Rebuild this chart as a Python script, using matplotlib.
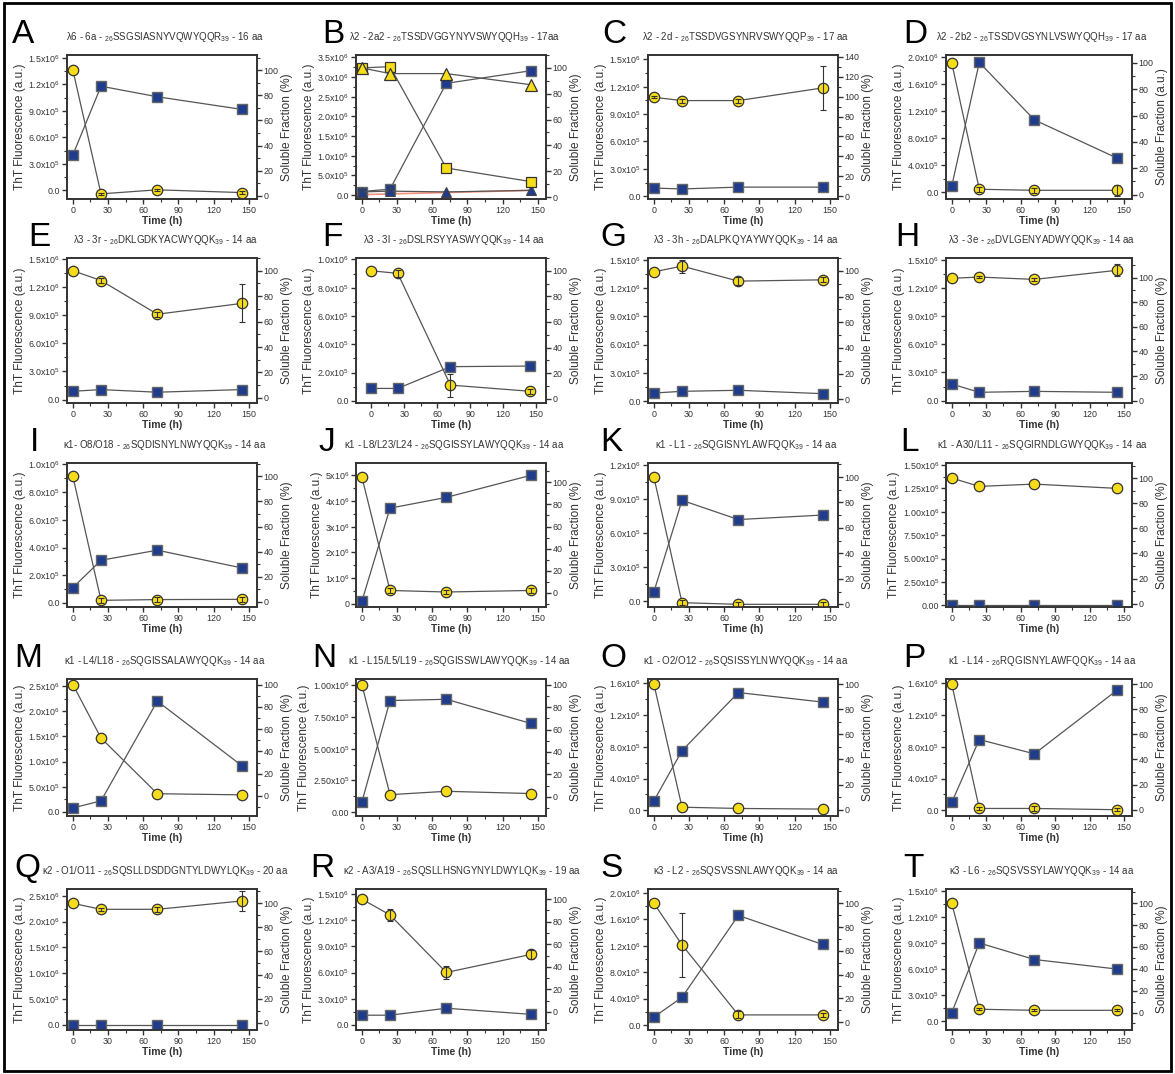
import numpy as np
import matplotlib
matplotlib.use("Agg")
import matplotlib.pyplot as plt
from matplotlib.ticker import AutoMinorLocator
from matplotlib.patches import Rectangle

plt.rcParams['font.family'] = ['Liberation Sans', 'DejaVu Sans']
plt.rcParams['mathtext.fontset'] = 'custom'
plt.rcParams['mathtext.rm'] = 'Liberation Sans'
plt.rcParams['mathtext.it'] = 'Liberation Sans'
plt.rcParams['mathtext.bf'] = 'Liberation Sans:bold'

hours = [0, 24, 72, 144]
letters = list("ABCDEFGHIJKLMNOPQRST")
titles = [
    "\u03bb6 - 6a - $_{26}$SSGSIASNYVQWYQQR$_{39}$ - 16 aa",
    "\u03bb2 - 2a2 - $_{26}$TSSDVGGYNYVSWYQQH$_{39}$ - 17aa",
    "\u03bb2 - 2d - $_{26}$TSSDVGSYNRVSWYQQP$_{39}$ - 17 aa",
    "\u03bb2 - 2b2 - $_{26}$TSSDVGSYNLVSWYQQH$_{39}$ - 17 aa",
    "\u03bb3 - 3r - $_{26}$DKLGDKYACWYQQK$_{39}$ - 14 aa",
    "\u03bb3 - 3l - $_{26}$DSLRSYYASWYQQK$_{39}$ - 14 aa",
    "\u03bb3 - 3h - $_{26}$DALPKQYAYWYQQK$_{39}$ - 14 aa",
    "\u03bb3 - 3e - $_{26}$DVLGENYADWYQQK$_{39}$ - 14 aa",
    "\u03ba1- O8/O18 - $_{26}$SQDISNYLNWYQQK$_{39}$ - 14 aa",
    "\u03ba1 - L8/L23/L24 - $_{26}$SQGISSYLAWYQQK$_{39}$ - 14 aa",
    "\u03ba1 - L1 - $_{26}$SQGISNYLAWFQQK$_{39}$ - 14 aa",
    "\u03ba1 - A30/L11 - $_{26}$SQGIRNDLGWYQQK$_{39}$ - 14 aa",
    "\u03ba1 - L4/L18 - $_{26}$SQGISSALAWYQQK$_{39}$ - 14 aa",
    "\u03ba1 - L15/L5/L19 - $_{26}$SQGISSWLAWYQQK$_{39}$ - 14 aa",
    "\u03ba1 - O2/O12 - $_{26}$SQSISSYLNWYQQK$_{39}$ - 14 aa",
    "\u03ba1 - L14 - $_{26}$RQGISNYLAWFQQK$_{39}$ - 14 aa",
    "\u03ba2 - O1/O11 - $_{26}$SQSLLDSDDGNTYLDWYLQK$_{39}$ - 20 aa",
    "\u03ba2 - A3/A19 - $_{26}$SQSLLHSNGYNYLDWYLQK$_{39}$ - 19 aa",
    "\u03ba3 - L2 - $_{26}$SQSVSSNLAWYQQK$_{39}$ - 14 aa",
    "\u03ba3 - L6 - $_{26}$SQSVSSYLAWYQQK$_{39}$ - 14 aa",
]

# ThT fluorescence (a.u.), blue squares
tht = [
    [0.40e6, 1.18e6, 1.06e6, 0.917e6],
    [0.09e6, 0.15e6, 2.84e6, 3.16e6],
    [0.09e6, 0.08e6, 0.10e6, 0.10e6],
    [0.093e6, 1.92e6, 1.07e6, 0.505e6],
    [0.089e6, 0.107e6, 0.079e6, 0.107e6],
    [0.088e6, 0.088e6, 0.242e6, 0.246e6],
    [0.086e6, 0.104e6, 0.115e6, 0.079e6],
    [0.177e6, 0.089e6, 0.099e6, 0.089e6],
    [0.111e6, 0.308e6, 0.381e6, 0.253e6],
    [0.09e6, 3.72e6, 4.14e6, 5.0e6],
    [0.08e6, 0.89e6, 0.72e6, 0.76e6],
    [0.0, 0.0, 0.0, 0.0],
    [0.08e6, 0.22e6, 2.2e6, 0.92e6],
    [0.08e6, 0.88e6, 0.89e6, 0.70e6],
    [0.12e6, 0.75e6, 1.48e6, 1.36e6],
    [0.10e6, 0.89e6, 0.71e6, 1.51e6],
    [0.005e6, 0.005e6, 0.005e6, 0.005e6],
    [0.11e6, 0.11e6, 0.19e6, 0.12e6],
    [0.12e6, 0.42e6, 1.66e6, 1.22e6],
    [0.10e6, 0.90e6, 0.71e6, 0.60e6],
]

# soluble fraction (%), yellow circles (panel B: yellow squares)
sol = [
    [100, 1.6, 4.8, 2.6],
    [100, 101, 22.5, 12],
    [99.3, 96, 96, 108.7],
    [100, 4, 3.2, 3.2],
    [100, 92.3, 65.8, 74.3],
    [100, 98, 10.6, 5.8],
    [99.2, 103.7, 92, 93],
    [99.5, 100.5, 98.6, 106],
    [100, 1.3, 1.9, 2.1],
    [105, 2, 0.6, 2],
    [100, 1.3, 0, 0],
    [100, 93.4, 95.2, 91.8],
    [100, 52, 2, 1],
    [100, 2, 5, 3],
    [100, 2, 1, 0.5],
    [100, 1, 1, 0],
    [100, 95, 95, 102],
    [100, 86, 35, 51],
    [100, 65, 6, 6],
    [100, 3, 2, 2],
]
sol_err = [
    [0, 1, 1, 1], [0, 0, 0, 0], [1, 2, 2, 22], [0, 2, 2, 4], [0, 2, 2, 15],
    [0, 3, 9, 2], [0, 5, 3, 2], [0, 1, 1, 5], [0, 2, 2, 2], [0, 2, 2, 2],
    [0, 2, 2, 2], [0, 0, 0, 0], [0, 0, 0, 0], [0, 0, 0, 0], [0, 0, 0, 0],
    [0, 1, 2, 1], [0, 1, 2, 8], [0, 5, 6, 4], [0, 27, 3, 2], [0, 1, 1, 1],
]

# extra series of panel B
b_sol_tri = [100, 95.6, 95.6, 87]
b_tht_tri = [0.08e6, 0.10e6, 0.08e6, 0.12e6]
b_tht_red = [0.01e6, 0.03e6, 0.065e6, 0.12e6]

# left tick labels: last tick, step, decimals
left_max = [1.5e6, 3.5e6, 1.5e6, 2.0e6, 1.5e6, 1.0e6, 1.5e6, 1.5e6, 1.0e6, 5e6,
            1.2e6, 1.5e6, 2.5e6, 1.0e6, 1.6e6, 1.6e6, 2.5e6, 1.5e6, 2.0e6, 1.5e6]
left_step = [3e5, 5e5, 3e5, 4e5, 3e5, 2e5, 3e5, 3e5, 2e5, 1e6,
             3e5, 2.5e5, 5e5, 2.5e5, 4e5, 4e5, 5e5, 3e5, 4e5, 3e5]
left_dec = [1, 1, 1, 1, 1, 1, 1, 1, 1, 0, 1, 2, 1, 2, 1, 1, 1, 1, 1, 1]
right_max = [100, 100, 140] + [100] * 17

# axis ranges
left_lim = [(-1e5, 1.534e6), (-1e5, 3.56e6), (-0.03e6, 1.547e6), (-0.1e6, 2.03e6),
            (-0.036e6, 1.51e6), (-0.015e6, 1.01e6), (-0.02e6, 1.52e6), (-0.025e6, 1.52e6),
            (-0.029e6, 1.01e6), (-0.13e6, 5.48e6), (-0.053e6, 1.22e6), (-0.018e6, 1.52e6),
            (-0.08e6, 2.64e6), (-0.03e6, 1.05e6), (-0.07e6, 1.65e6), (-0.07e6, 1.65e6),
            (-0.1e6, 2.63e6), (-0.06e6, 1.56e6), (-0.075e6, 2.06e6), (-0.1e6, 1.52e6)]
right_lim = [(-2.5, 112), (-1.5, 110), (-2.7, 141.7), (-3.4, 106), (-4, 110),
             (-3.4, 110), (-2.9, 110), (-1.9, 116), (-4, 110.6), (-13, 117.6),
             (-2.1, 111), (-2.6, 112), (-18, 105), (-17, 105), (-5, 104),
             (-5, 104), (-6, 112), (-16, 109), (-6.7, 112), (-16, 113)]


def sci_label(v, dec):
    if v == 0:
        return '0' if dec == 0 else '0.' + '0' * dec
    e = int(np.floor(np.log10(v) + 1e-9))
    m = v / 10 ** e
    return f'{m:.{dec}f}x10$^{{{e}}}$'


W, H = 1175, 1074
fig = plt.figure(figsize=(W / 100, H / 100), dpi=100)
col_left = [67, 356, 648, 946]
col_width = [190, 190, 190, 186]
row_top = [55, 258, 463, 679, 889]
row_bottom = [199, 403, 607, 816, 1030]
letter_x = [12, 322, 602, 903, 28, 322, 600, 895, 30, 318, 600, 900,
            14, 312, 600, 903, 14, 310, 600, 903]
title_shift = [0] * 20
title_shift[13] = 6
title_shift[17] = 8

navy = '#1f3d8c'
yellow = '#f7dc1a'
grey = '#555555'
txt = '#333333'

for i in range(20):
    r, c = divmod(i, 4)
    l, t, b = col_left[c], row_top[r], row_bottom[r]
    ax = fig.add_axes([l / W, 1 - b / H, col_width[c] / W, (b - t) / H])
    ax2 = ax.twinx()

    ax.plot(hours, tht[i], '-s', color=grey, lw=0.9, ms=6.5,
            mfc=navy, mec='#666666', mew=1, zorder=3)
    if i == 1:
        ax.plot(hours, b_tht_red, '-', color='#f4907c', lw=1.2, zorder=2)
        ax.plot(hours, b_tht_tri, '-^', color=grey, lw=0.9, ms=7.5,
                mfc=navy, mec='#444444', mew=0.8, zorder=3)
        ax2.plot(hours, sol[i], '-s', color=grey, lw=0.9, ms=6.5,
                 mfc=yellow, mec='#333333', mew=0.9)
        ax2.plot(hours, b_sol_tri, '-^', color=grey, lw=0.9, ms=8,
                 mfc=yellow, mec='#333333', mew=0.9)
    else:
        ax2.plot(hours, sol[i], '-o', color=grey, lw=0.9, ms=7.5,
                 mfc=yellow, mec='#333333', mew=0.9)
        err = np.array(sol_err[i], dtype=float)
        keep = err > 0
        if keep.any():
            ax2.errorbar(np.array(hours)[keep], np.array(sol[i])[keep], yerr=err[keep],
                         fmt='none', ecolor='#333333', elinewidth=0.8, capsize=2,
                         capthick=0.8, zorder=4)

    ax.set_xlim(-14 if i == 5 else -5, 159 if i == 5 else 157)
    ax.set_xticks([0, 30, 60, 90, 120, 150])
    ax.xaxis.set_minor_locator(AutoMinorLocator(2))

    ticks = np.arange(0, left_max[i] + left_step[i] / 2, left_step[i])
    ax.set_yticks(ticks)
    ax.set_yticklabels([sci_label(v, left_dec[i]) for v in ticks])
    ax.yaxis.set_minor_locator(AutoMinorLocator(2))
    ax.set_ylim(*left_lim[i])

    ax2.set_yticks(range(0, right_max[i] + 1, 20))
    ax2.yaxis.set_minor_locator(AutoMinorLocator(2))
    ax2.set_ylim(*right_lim[i])

    for a in (ax, ax2):
        for s in a.spines.values():
            s.set_color(txt)
            s.set_linewidth(1.2)
        a.tick_params(which='major', direction='out', length=3.5, width=1,
                      labelsize=6.4, colors=txt, pad=1.2)
        a.tick_params(which='minor', direction='out', length=2, width=0.8, colors=txt)

    ax.set_ylabel('ThT Fluorescence (a.u.)', fontsize=8.6, color=txt, labelpad=1.5)
    ax2.set_ylabel('Soluble Fraction (a.u.)' if i == 3 else 'Soluble Fraction (%)',
                   fontsize=8.6, color=txt, labelpad=2)
    ax.set_xlabel('Time (h)', fontsize=7.5, fontweight='bold', color=txt, labelpad=1)

    cx = (l + col_width[c] / 2 + 3 + title_shift[i]) / W
    fig.text(cx, 1 - (t - 15) / H, titles[i], fontsize=7, color=txt,
             ha='center', va='baseline')
    fig.text(letter_x[i] / W, 1 - (t - 12) / H, letters[i], fontsize=24,
             color='black', ha='left', va='baseline')

fig.patches.append(Rectangle((0.003, 0.003), 0.994, 0.994, transform=fig.transFigure,
                             fill=False, lw=2, ec='black'))

fig.savefig('out.png', dpi=100)
